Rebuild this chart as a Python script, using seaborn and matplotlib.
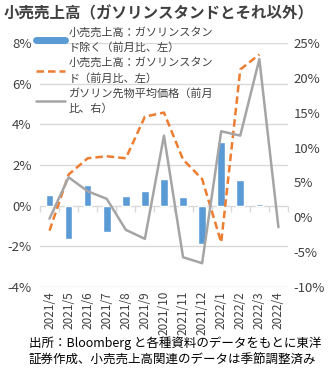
import matplotlib
matplotlib.use("Agg")
import matplotlib.pyplot as plt
from matplotlib.lines import Line2D
from matplotlib.ticker import FixedLocator, FuncFormatter
import numpy as np
import pandas as pd
import seaborn as sns

months = ["2021/4", "2021/5", "2021/6", "2021/7", "2021/8", "2021/9", "2021/10",
          "2021/11", "2021/12", "2022/1", "2022/2", "2022/3", "2022/4"]
retail_ex_gas = [0.53, -1.63, 1.02, -1.30, 0.49, 0.71, 1.33, 0.43, -1.89, 3.15, 1.25, 0.10, np.nan]
retail_gas = [-1.23, 1.53, 2.33, 2.43, 2.33, 4.38, 4.58, 2.27, 1.31, -1.81, 6.70, 7.44, np.nan]
gasoline_price = [-0.2, 5.74, 3.73, 2.64, -1.81, -3.10, 11.72, -5.74, -6.6, 12.34, 11.72, 22.7, -1.43]

label_bar = "小売売上高：ガソリンスタン\nド除く（前月比、左）"
label_gas = "小売売上高：ガソリンスタン\nド（前月比、左）"
label_price = "ガソリン先物平均価格（前月\n比、右）"
title = "小売売上高（ガソリンスタンドとそれ以外）"
note = "出所：Bloomberg と各種資料のデータをもとに東洋\n証券作成、小売売上高関連のデータは季節調整済み"

sns.set_theme(style="white")
plt.rcParams["font.family"] = ["Noto Sans CJK JP", "DejaVu Sans"]

BLUE = "#5B9BD5"
ORANGE = "#ED7D31"
GRAY = "#A5A5A5"
TXT = "#404040"

df = pd.DataFrame({"month": months, "bar": retail_ex_gas, "gas": retail_gas, "price": gasoline_price})

fig = plt.figure(figsize=(3.36, 3.78), dpi=100)
ax = fig.add_axes([0.119, 0.241, 0.738, 0.645])

sns.barplot(data=df, x="month", y="bar", order=months, color=BLUE, width=0.4,
            saturation=1, ax=ax, zorder=2)
x_pos = np.arange(len(months))
sns.lineplot(x=x_pos, y=df["gas"].values, ax=ax, color=ORANGE, linewidth=1.8,
             dashes=False, linestyle=(0, (3, 1.6)), zorder=3)

ax2 = ax.twinx()
sns.lineplot(x=x_pos, y=df["price"].values, ax=ax2, color=GRAY, linewidth=1.8, zorder=3)

ax.set_xlim(-0.5, len(months) - 0.5)
ax.set_ylim(-4, 8)
ax.set_yticks([-4, -2, 0, 2, 4, 6, 8])
ax.yaxis.set_major_formatter(FuncFormatter(lambda v, p: f"{v:.0f}%"))
ax2.set_ylim(-10, 25)
ax2.set_yticks([-10, -5, 0, 5, 10, 15, 20, 25])
ax2.yaxis.set_major_formatter(FuncFormatter(lambda v, p: f"{v:.0f}%"))

ax.grid(axis="y", color="#D9D9D9", linewidth=1.0, zorder=0)
ax.set_axisbelow(True)
for a in (ax, ax2):
    for s in a.spines.values():
        s.set_visible(False)
ax.set_xlabel("")
ax.set_ylabel("")
ax2.set_ylabel("")

ax.set_xticks(x_pos)
ax.set_xticklabels(months, rotation=90, fontsize=8.5, color=TXT)
ax.tick_params(axis="x", length=0, pad=3)
ax.tick_params(axis="y", length=0, labelsize=9.5, labelcolor=TXT, pad=6)
ax2.tick_params(axis="y", length=0, labelsize=9.5, labelcolor=TXT, pad=4)

# category tick marks on the zero line
sec = ax.secondary_xaxis(1 / 3)
sec.xaxis.set_major_locator(FixedLocator(np.arange(-0.5, len(months), 1.0)))
sec.tick_params(axis="x", direction="out", length=4, color="#D9D9D9", width=1, labelbottom=False)
sec.set_xticklabels([])
for s in sec.spines.values():
    s.set_visible(False)

handles = [
    Line2D([], [], color=BLUE, linewidth=5),
    Line2D([], [], color=ORANGE, linewidth=1.8, linestyle=(0, (3, 1.6))),
    Line2D([], [], color=GRAY, linewidth=1.8),
]
leg = fig.legend(handles, [label_bar, label_gas, label_price], loc="upper left",
                 bbox_to_anchor=(0.105, 0.932), frameon=False, fontsize=8,
                 handlelength=2.6, handletextpad=0.3, labelspacing=0.4,
                 borderpad=0.1, borderaxespad=0)
for t in leg.get_texts():
    t.set_color(TXT)
    t.set_linespacing(1.55)

fig.text(0.01, 0.965, title, fontsize=11.2, fontweight="bold", color=TXT, va="center", ha="left")
fig.text(0.085, 0.07, note, fontsize=9, color="#000000", va="center", ha="left", linespacing=1.35)

fig.savefig("out.png", dpi=100)
